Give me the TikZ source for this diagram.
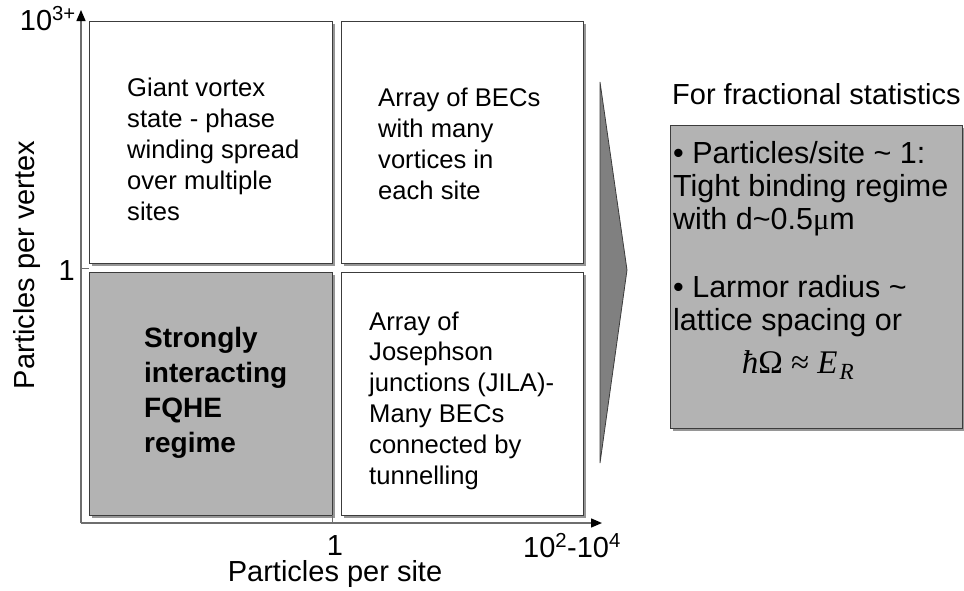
\documentclass[tikz,border=0pt]{standalone}
\usepackage{fontspec}
\setmainfont{Liberation Sans}
\newfontfamily\tnr{Liberation Serif}
\usetikzlibrary{shadows,arrows.meta}
\definecolor{boxline}{RGB}{60,60,60}
\definecolor{cellgrey}{RGB}{179,179,179}
\definecolor{axisgrey}{RGB}{110,110,110}
\definecolor{chevgrey}{RGB}{128,128,128}
\begin{document}
\begin{tikzpicture}[x=1pt,y=-1pt,
  cell/.style={draw=boxline, line width=0.9pt, anchor=north west, inner sep=0pt,
    drop shadow={shadow xshift=3pt, shadow yshift=-3pt, opacity=0.55, fill=black!75}},
  txt/.style={anchor=base west, inner sep=0pt, align=left, font=\fontsize{25.6}{30.8}\selectfont},
  rtxt/.style={anchor=base west, inner sep=0pt, align=left, font=\fontsize{30.5}{33}\selectfont},
  axlab/.style={inner sep=0pt, font=\fontsize{29}{33}\selectfont},
  axisline/.style={draw=axisgrey, line width=1.4pt},
  tip/.style={-{Triangle[length=11pt,width=9pt,color=black]}}
]
\useasboundingbox (0,0) rectangle (964,590);

% cells
\node[cell, fill=white, minimum width=243pt, minimum height=242pt] (tl) at (89,21) {};
\node[cell, fill=white, minimum width=242pt, minimum height=242pt] (tr) at (341,21) {};
\node[cell, fill=cellgrey, minimum width=243pt, minimum height=243pt] (bl) at (89,272) {};
\node[cell, fill=white, minimum width=242pt, minimum height=243pt] (br) at (341,272) {};

% axes
\coordinate (O) at (81,523);
\coordinate (ytop) at (81,10);
\coordinate (xend) at (602,523);
\draw[axisline, tip] (O) -- (ytop);
\draw[axisline, tip] (O) -- (xend);
\coordinate (yt1) at (81,268);
\coordinate (yt2) at (89,268);
\draw[axisline, line width=1pt] (yt1) -- (yt2);
\coordinate (xt1) at (332,515);
\coordinate (xt2) at (332,523);
\draw[axisline, line width=1pt] (xt1) -- (xt2);

% axis labels
\node[axlab, anchor=base east] (ymax) at (76,30) {10\textsuperscript{3+}};
\node[axlab, anchor=base east] (yone) at (75,280) {1};
\node[axlab, anchor=base] (xone) at (335,555) {1};
\node[axlab, anchor=base] (xmax) at (572,557) {10\textsuperscript{2}-10\textsuperscript{4}};
\node[axlab, anchor=base] (xlab) at (335,581) {Particles per site};
\node[axlab, rotate=90] (ylab) at (27,265) {Particles per vertex};

% cell texts (anchored at the baseline of their last line)
\node[txt] (tltext) at (127,220) {Giant vortex\\state - phase\\winding spread\\over multiple\\sites};
\node[txt] (trtext) at (378,199) {Array of BECs\\with many\\vortices in\\each site};
\node[anchor=base west, inner sep=0pt, align=left, font=\fontsize{28}{34.7}\selectfont\bfseries] (bltext) at (144,452) {Strongly\\interacting\\FQHE\\regime};
\node[txt] (brtext) at (369,484) {Array of\\Josephson\\junctions (JILA)-\\Many BECs\\connected by\\tunnelling};

% chevron
\coordinate (c1) at (600,82);
\coordinate (c2) at (627,270);
\coordinate (c3) at (600,463);
\filldraw[fill=chevgrey, draw=boxline, line width=0.8pt] (c1) -- (c2) -- (c3) -- cycle;

% right box
\node[rtxt, font=\fontsize{29}{32}\selectfont] (rtitle) at (672,104) {For fractional statistics};
\node[cell, fill=cellgrey, minimum width=292pt, minimum height=303pt] (rbox) at (670,125) {};
\node[rtxt] (r1) at (673,229) {• Particles/site \textasciitilde{} 1:\\Tight binding regime\\with d\textasciitilde{}0.5{\tnr μ}m};
\node[rtxt] (r2) at (673,330) {• Larmor radius \textasciitilde\\lattice spacing or};
\node[anchor=base, inner sep=0pt, font=\fontsize{33}{36}\selectfont\tnr] (r3) at (798,373) {{\itshape ħ}Ω ≈ {\itshape E\kern2pt\textsubscript{R}}};
\end{tikzpicture}
\end{document}
